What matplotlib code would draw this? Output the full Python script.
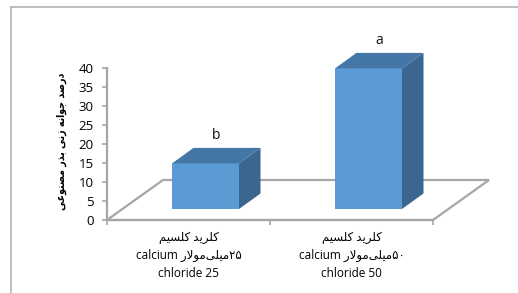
import matplotlib
matplotlib.use('Agg')
import matplotlib.pyplot as plt
from matplotlib.patches import Polygon
from matplotlib.lines import Line2D

# data
salt_fa = ['کلرید کلسیم', 'کلرید کلسیم']
dose_fa = ['۲۵', '۵۰']
unit_fa = 'میلی\u200cمولار'
salt_en = ['calcium', 'calcium']
dose_en = ['chloride 25', 'chloride 50']
germination = [12, 37]
letters = ['b', 'a']
y_ticks = [0, 5, 10, 15, 20, 25, 30, 35, 40]
ylabel_fa = 'درصد جوانه زنی بذر مصنوعی'

# matplotlib has no arabic shaping, so pick presentation forms by hand
# (isolated, final, initial, medial)
FORMS = {
    'ا': ('\uFE8D', '\uFE8E', None, None),
    'ب': ('\uFE8F', '\uFE90', '\uFE91', '\uFE92'),
    'ج': ('\uFE9D', '\uFE9E', '\uFE9F', '\uFEA0'),
    'د': ('\uFEA9', '\uFEAA', None, None),
    'ذ': ('\uFEAB', '\uFEAC', None, None),
    'ر': ('\uFEAD', '\uFEAE', None, None),
    'ز': ('\uFEAF', '\uFEB0', None, None),
    'س': ('\uFEB1', '\uFEB2', '\uFEB3', '\uFEB4'),
    'ص': ('\uFEB9', '\uFEBA', '\uFEBB', '\uFEBC'),
    'ع': ('\uFEC9', '\uFECA', '\uFECB', '\uFECC'),
    'ل': ('\uFEDD', '\uFEDE', '\uFEDF', '\uFEE0'),
    'م': ('\uFEE1', '\uFEE2', '\uFEE3', '\uFEE4'),
    'ن': ('\uFEE5', '\uFEE6', '\uFEE7', '\uFEE8'),
    'ه': ('\uFEE9', '\uFEEA', '\uFEEB', '\uFEEC'),
    'و': ('\uFEED', '\uFEEE', None, None),
    'ک': ('\uFB8E', '\uFB8F', '\uFB90', '\uFB91'),
    'ی': ('\uFBFC', '\uFBFD', '\uFBFE', '\uFBFF'),
}


def dual(c):
    return c in FORMS and FORMS[c][2] is not None


def rtl(text):
    # shape and return in visual (left to right) order
    out = []
    i = 0
    while i < len(text):
        c = text[i]
        if c not in FORMS:
            if c != '\u200c':
                out.append(c)
            i += 1
            continue
        joins_prev = i > 0 and dual(text[i - 1])
        if c == 'ل' and i + 1 < len(text) and text[i + 1] == 'ا':
            out.append('\uFEFC' if joins_prev else '\uFEFB')
            i += 2
            continue
        joins_next = dual(c) and i + 1 < len(text) and text[i + 1] in FORMS
        iso, fin, ini, med = FORMS[c]
        if joins_prev and joins_next:
            out.append(med)
        elif joins_prev:
            out.append(fin)
        elif joins_next:
            out.append(ini)
        else:
            out.append(iso)
        i += 1
    return ''.join(out[::-1])


W, H = 518, 293
fig = plt.figure(figsize=(W / 100, H / 100), dpi=100)
ax = fig.add_axes([107 / W, 73 / H, 326 / W, 152 / H])
ax.set_xlim(-0.5, 1.5)
ax.set_ylim(0, 40)

# pixel -> data unit scales
sx = 326 / 2
sy = 152 / 40

gray = '#a6a6a6'
front_c = '#5b9bd5'
top_c = '#4577a6'
side_c = '#3b6690'

# floor of the 3d box
fdx, fdy = 56 / sx, 40 / sy
floor = Polygon([(-0.5, 0), (1.5, 0), (1.5 + fdx, fdy), (-0.5 + fdx, fdy)],
                closed=True, fill=False, edgecolor=gray, lw=1.6,
                clip_on=False, zorder=1)
ax.add_patch(floor)

# bars: front face offset into the box, then side and top faces
bdx, bdy = 17 / sx, 11 / sy
ddx, ddy = 21.5 / sx, 15.5 / sy
bw = 67 / sx
xs = range(len(germination))
ax.bar([x + bdx for x in xs], germination, width=bw, bottom=bdy,
       color=front_c, clip_on=False, zorder=3)
for x, v, lab in zip(xs, germination, letters):
    xl = x + bdx - bw / 2
    xr = x + bdx + bw / 2
    top = bdy + v
    ax.add_patch(Polygon([(xl, top), (xr, top), (xr + ddx, top + ddy), (xl + ddx, top + ddy)],
                         closed=True, facecolor=top_c, edgecolor='none', clip_on=False, zorder=3))
    ax.add_patch(Polygon([(xr, bdy), (xr, top), (xr + ddx, top + ddy), (xr + ddx, bdy + ddy)],
                         closed=True, facecolor=side_c, edgecolor='none', clip_on=False, zorder=3))
    ax.text(x + bdx + ddx / 2, top + ddy + 5 / sy, lab, ha='center', va='bottom',
            fontsize=10, family=['Open Sans', 'DejaVu Sans'], color='#111111')

# axes lines
for s in ['top', 'right']:
    ax.spines[s].set_visible(False)
ax.spines['left'].set_color(gray)
ax.spines['left'].set_linewidth(1.6)
ax.spines['bottom'].set_color(gray)
ax.spines['bottom'].set_linewidth(1.6)
ax.spines['left'].set_zorder(1)
ax.spines['bottom'].set_zorder(1)

ax.set_yticks(y_ticks)
ax.set_yticklabels([str(t) for t in y_ticks], family=['Open Sans'], fontsize=9.5)
ax.tick_params(axis='y', length=3.5, width=1.2, color=gray, pad=6)

ax.set_xticks([-0.5, 0.5, 1.5])
ax.set_xticklabels([])
ax.set_xticks(list(xs), minor=True)
labels = [rtl(f) + '\n' + salt_en[i] + ' ' + rtl(unit_fa) + dose_fa[i] + '\n' + dose_en[i]
          for i, f in enumerate(salt_fa)]
ax.set_xticklabels(labels, minor=True, family=['Open Sans', 'DejaVu Sans'],
                   fontsize=8.5, linespacing=1.5)
ax.tick_params(axis='x', which='major', length=3.5, width=1.2, color=gray)
ax.tick_params(axis='x', which='minor', length=0, pad=8)

fig.text(62 / W, 1 - 141 / H, rtl(ylabel_fa), rotation=90, ha='center', va='center',
         fontsize=7.6, fontweight='bold', fontstretch='condensed', family=['DejaVu Sans'])

# chart area border (only top and left visible)
fig.add_artist(Line2D([10.5 / W, 1], [1 - 6.5 / H, 1 - 6.5 / H], color='#b3b3b3', lw=1.2))
fig.add_artist(Line2D([10.5 / W, 10.5 / W], [0, 1 - 6.5 / H], color='#b3b3b3', lw=1.2))

fig.savefig('out.png', dpi=100)
